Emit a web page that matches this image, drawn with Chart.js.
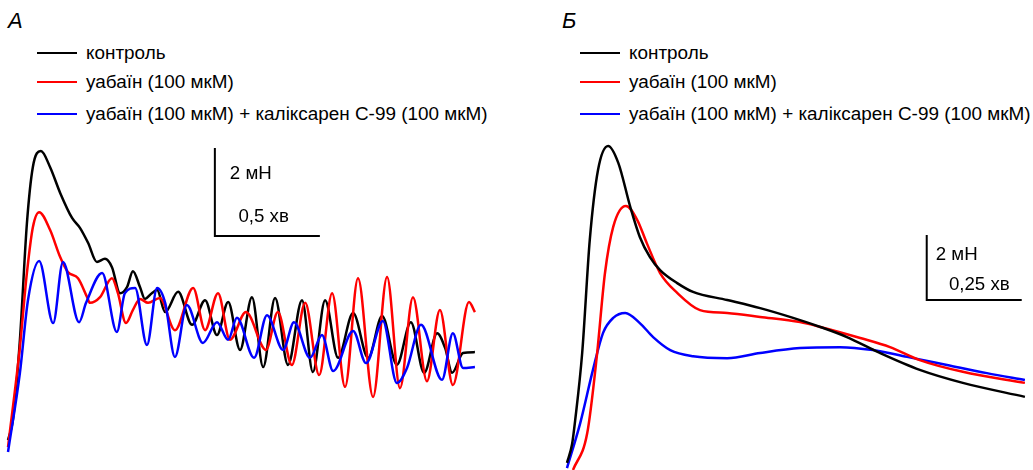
<!DOCTYPE html>
<html>
<head>
<meta charset="utf-8">
<script src="https://cdn.jsdelivr.net/npm/chart.js@4.4.1/dist/chart.umd.min.js"></script>
<style>
  html, body { margin: 0; padding: 0; background: #fff; }
  body { width: 1033px; height: 470px; position: relative; overflow: hidden;
         font-family: Arial, "Liberation Sans", sans-serif; color: #000; }
  .panel-letter { position: absolute; top: 8px; font-size: 22px; font-style: italic; }
  .legend { position: absolute; top: 40px; font-size: 18.9px; }
  .legend div { position: relative; height: 29px; line-height: 26px; white-space: nowrap; padding-left: 49px; }
  .legend div:last-child { margin-top: 3px; }
  .legend span { position: absolute; left: 0; top: 12px; width: 40px; height: 2px; }
  .box { position: absolute; top: 130px; height: 340px; }
</style>
</head>
<body>

<div class="panel-letter" style="left:8px">А</div>
<div class="legend" style="left:37px">
  <div><span style="background:#000"></span>контроль</div>
  <div><span style="background:#f00"></span>уабаїн (100 мкМ)</div>
  <div><span style="background:#00f"></span>уабаїн (100 мкМ) + каліксарен С-99 (100 мкМ)</div>
</div>

<div class="panel-letter" style="left:562px">Б</div>
<div class="legend" style="left:580px">
  <div><span style="background:#000"></span>контроль</div>
  <div><span style="background:#f00"></span>уабаїн (100 мкМ)</div>
  <div><span style="background:#00f"></span>уабаїн (100 мкМ) + каліксарен С-99 (100 мкМ)</div>
</div>

<div class="box" style="left:0px;width:490px"><canvas id="chartA"></canvas></div>
<div class="box" style="left:540px;width:493px"><canvas id="chartB"></canvas></div>

<script>
// === PANEL А : time (s), force (mN) ===
const tA_control = [0, 1.4, 3.4, 5.4, 7.1, 9.4, 12.0, 14.9, 18.3, 20.6, 22.9, 25.4, 27.7, 29.7, 32.0, 34.0, 35.7, 37.7, 39.1, 41.1, 42.6, 44.9, 48.6, 52.6, 56.3, 59.7, 62.9, 66.3, 69.7, 72.9, 76.3, 80.0, 84.0, 87.1, 90.6, 94.3, 98.6, 102.9, 106.9, 111.1, 115.1, 118.9, 122.6, 124.9, 126.9, 130.0, 133.4];
const fA_control = [0.27, 0.73, 2.55, 5.20, 6.48, 6.84, 6.48, 5.89, 5.32, 5.09, 4.75, 4.32, 4.39, 4.20, 3.61, 3.75, 4.11, 3.75, 3.48, 3.61, 3.68, 3.18, 3.64, 2.89, 3.45, 2.66, 3.41, 2.32, 3.52, 1.93, 3.50, 1.98, 3.45, 1.82, 3.45, 2.14, 3.16, 2.14, 3.09, 1.98, 2.95, 1.80, 2.70, 2.36, 1.80, 2.25, 2.27];

const tA_ouabain = [0, 3.4, 5.4, 7.1, 8.9, 12.0, 14.9, 17.1, 20.0, 22.6, 23.4, 26.3, 29.7, 31.4, 33.7, 35.7, 37.7, 40.0, 43.4, 47.7, 52.9, 56.3, 60.0, 63.4, 68.0, 73.7, 77.1, 81.1, 84.9, 88.9, 92.6, 96.3, 100.0, 104.3, 108.3, 112.0, 115.7, 119.7, 123.4, 127.1, 131.7, 133.4];
const fA_ouabain = [0.11, 2.39, 4.07, 5.11, 5.45, 5.05, 4.43, 4.09, 3.95, 3.52, 3.39, 3.52, 3.95, 3.61, 2.93, 3.23, 3.48, 3.39, 3.50, 2.77, 3.73, 2.77, 3.61, 2.55, 3.18, 2.32, 3.18, 1.98, 3.39, 1.75, 3.61, 1.48, 3.95, 1.25, 3.98, 1.45, 3.52, 1.61, 3.23, 1.52, 3.41, 3.18];

const tA_calix = [0, 3.4, 5.7, 8.9, 12.9, 15.7, 20.3, 22.3, 26.9, 31.1, 33.4, 36.3, 39.7, 42.6, 44.9, 47.7, 51.1, 55.7, 59.7, 62.9, 65.4, 70.3, 74.0, 78.6, 81.7, 86.3, 89.7, 92.9, 98.6, 102.3, 107.1, 111.1, 114.0, 118.0, 124.0, 127.1, 130.0, 133.4];
const fA_calix = [0, 1.80, 3.45, 4.34, 2.93, 4.32, 2.95, 3.39, 4.07, 2.73, 3.61, 3.73, 2.43, 3.73, 3.39, 2.16, 3.34, 2.48, 2.95, 2.55, 3.05, 2.14, 3.11, 2.32, 2.95, 2.14, 2.66, 1.84, 2.75, 2.02, 2.98, 1.57, 1.91, 2.89, 1.64, 2.70, 1.91, 1.93];

// scale bar А: 2 mN, 0.5 min
const barA_t = [59.1, 59.1, 89.1];
const barA_f = [6.91, 4.91, 4.91];

// === PANEL Б : time (s), force (mN) ===
const tB_control = [0, 0.8, 1.3, 2.4, 3.6, 4.9, 6.5, 8.1, 10.0, 11.5, 13.1, 14.7, 17.4, 19.9, 25.3, 30.5, 35.7, 40.0, 44.2, 49.4, 55.7, 62.5, 72.3];
const fB_control = [0.22, 0.79, 1.54, 3.60, 7.08, 9.23, 9.97, 9.45, 8.09, 7.17, 6.55, 6.15, 5.75, 5.48, 5.23, 4.98, 4.68, 4.40, 4.09, 3.60, 3.08, 2.68, 2.25];

const tB_ouabain = [0.95, 3.2, 4.7, 6.0, 7.3, 9.3, 11.1, 12.6, 14.7, 17.4, 21.0, 25.3, 30.5, 36.8, 40.0, 46.3, 51.0, 55.7, 62.5, 72.3];
const fB_ouabain = [0, 1.14, 3.48, 6.06, 7.48, 8.12, 7.69, 6.98, 6.06, 5.45, 4.92, 4.83, 4.71, 4.55, 4.40, 4.06, 3.78, 3.38, 3.02, 2.68];

const tB_calix = [0, 2.1, 4.1, 5.7, 7.3, 9.2, 11.5, 13.6, 16.3, 19.9, 25.3, 30.5, 36.8, 43.1, 48.3, 53.7, 60.0, 66.3, 72.3];
const fB_calix = [0.06, 1.45, 3.08, 4.22, 4.68, 4.83, 4.52, 4.09, 3.69, 3.50, 3.44, 3.60, 3.75, 3.78, 3.69, 3.48, 3.23, 2.98, 2.77];

// scale bar Б: 2 mN, 0.25 min
const barB_t = [56.8, 56.8, 71.8];
const barB_f = [7.23, 5.23, 5.23];

Chart.defaults.font.family = "Arial, 'Liberation Sans', sans-serif";

function pts(t, f) {
  return t.map((v, i) => ({ x: v, y: f[i] }));
}

function trace(t, f, color, order) {
  return {
    data: pts(t, f),
    borderColor: color,
    borderWidth: 2.5,
    pointRadius: 0,
    cubicInterpolationMode: "monotone",
    order: order
  };
}

// labels of the scale bar, placed from the bar's own values
const barLabels = {
  id: "barLabels",
  afterDatasetsDraw(chart, args, opts) {
    const { ctx, scales } = chart;
    const xs = scales.x, ys = scales.y;
    const x0 = xs.getPixelForValue(opts.t[0]);
    const x1 = xs.getPixelForValue(opts.t[2]);
    const yTop = ys.getPixelForValue(opts.f[0]);
    const yBot = ys.getPixelForValue(opts.f[1]);
    ctx.save();
    ctx.fillStyle = "#000";
    ctx.font = "18.7px Arial, 'Liberation Sans', sans-serif";
    ctx.textBaseline = "middle";
    ctx.textAlign = "left";
    ctx.fillText(opts.force, x0 + opts.fdx, yTop + opts.fdy);
    ctx.textAlign = "right";
    ctx.fillText(opts.time, x1 - opts.tdx, yBot - opts.tdy);
    ctx.restore();
  }
};

function makeChart(id, sets, bar, xr, yr, labels) {
  return new Chart(document.getElementById(id), {
    type: "line",
    data: {
      datasets: sets.concat([{
        data: pts(bar[0], bar[1]),
        borderColor: "#000",
        borderWidth: 2,
        pointRadius: 0,
        tension: 0,
        order: 0
      }])
    },
    options: {
      responsive: true,
      maintainAspectRatio: false,
      animation: false,
      layout: { padding: 0 },
      scales: {
        x: { type: "linear", display: false, min: xr[0], max: xr[1] },
        y: { type: "linear", display: false, min: yr[0], max: yr[1] }
      },
      plugins: {
        legend: { display: false },
        tooltip: { enabled: false },
        barLabels: labels
      }
    },
    plugins: [barLabels]
  });
}

makeChart("chartA", [
  trace(tA_control, fA_control, "#000000", 3),
  trace(tA_ouabain, fA_ouabain, "#ff0000", 2),
  trace(tA_calix, fA_calix, "#0000ff", 1)
], [barA_t, barA_f], [-2.29, 137.71], [-0.41, 7.32],
  { t: barA_t, f: barA_f, force: "2 мН", time: "0,5 хв", fdx: 15, fdy: 26, tdx: 31, tdy: 19 });

makeChart("chartB", [
  trace(tB_control, fB_control, "#000000", 1),
  trace(tB_ouabain, fB_ouabain, "#ff0000", 2),
  trace(tB_calix, fB_calix, "#0000ff", 3)
], [barB_t, barB_f], [-4.26, 73.58], [0, 10.46],
  { t: barB_t, f: barB_f, force: "2 мН", time: "0,25 хв", fdx: 9, fdy: 20, tdx: 12, tdy: 15 });
</script>
</body>
</html>
